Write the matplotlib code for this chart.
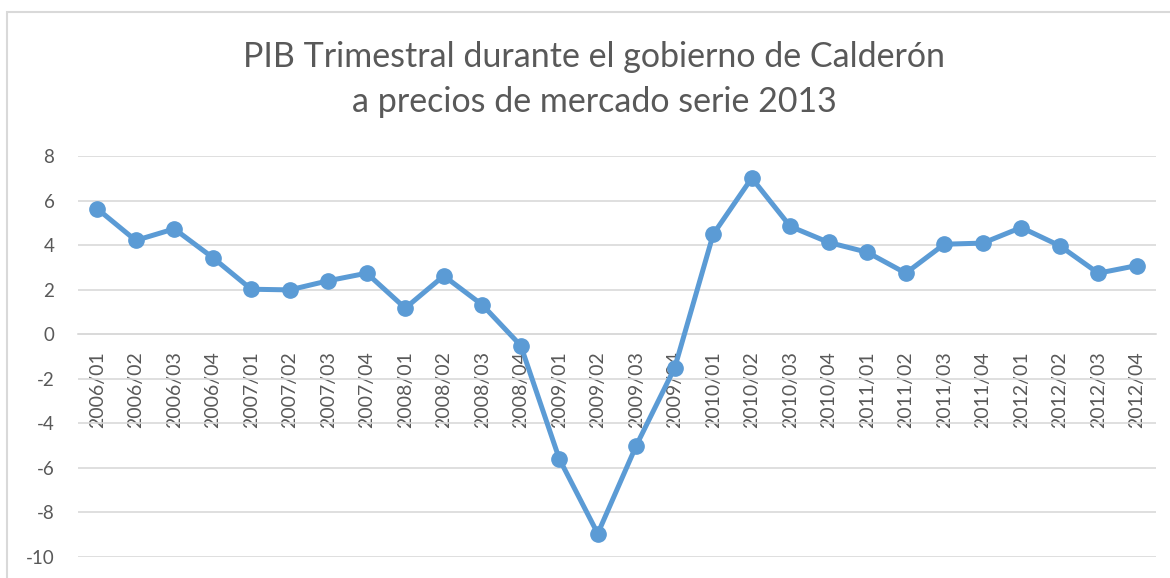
import matplotlib.pyplot as plt
from matplotlib.patches import Rectangle

# quarters and GDP growth (%)
quarters = ["2006/01", "2006/02", "2006/03", "2006/04",
            "2007/01", "2007/02", "2007/03", "2007/04",
            "2008/01", "2008/02", "2008/03", "2008/04",
            "2009/01", "2009/02", "2009/03", "2009/04",
            "2010/01", "2010/02", "2010/03", "2010/04",
            "2011/01", "2011/02", "2011/03", "2011/04",
            "2012/01", "2012/02", "2012/03", "2012/04"]
pib = [5.63, 4.21, 4.73, 3.44,
       2.02, 1.99, 2.40, 2.74,
       1.17, 2.62, 1.32, -0.51,
       -5.59, -8.95, -5.00, -1.50,
       4.49, 7.01, 4.84, 4.12,
       3.68, 2.74, 4.04, 4.09,
       4.79, 3.97, 2.74, 3.08]
yticks = [-10, -8, -6, -4, -2, 0, 2, 4, 6, 8]

plt.rcParams['font.family'] = ['Lato', 'DejaVu Sans']
gray = "#595959"

fig = plt.figure(figsize=(11.7, 5.78), dpi=100)
# chart border (Excel style, partly cut off)
fig.patches.append(Rectangle((7/1170, -0.05), 1.2, 1 - 12/578 + 0.05,
                             transform=fig.transFigure, fill=False,
                             edgecolor="#D9D9D9", linewidth=1.5))

ax = fig.add_axes([78/1170, 1 - 557/578, (1156 - 78)/1170, (557 - 156)/578])
# axis line crosses at 0 like in Excel (set before tick styling, it resets ticks)
for s in ["top", "right", "left"]:
    ax.spines[s].set_visible(False)
ax.spines["bottom"].set_position(("data", 0))
ax.spines["bottom"].set_color("#D9D9D9")
ax.spines["bottom"].set_linewidth(1.2)

x = list(range(len(quarters)))
ax.plot(x, pib, color="#5B9BD5", linewidth=3.6, marker="o", markersize=11,
        zorder=3, clip_on=False)

ax.set_xlim(-0.5, len(quarters) - 0.5)
ax.set_ylim(-10, 8)
ax.set_yticks(yticks)
ax.set_yticklabels([str(v) for v in yticks])
ax.set_xticks(x)
ax.set_xticklabels(quarters)
ax.yaxis.grid(True, color="#D9D9D9", linewidth=1.2)
ax.set_axisbelow(True)

ax.tick_params(axis="x", length=0, pad=12, labelsize=14, colors=gray,
               labelrotation=90)
ax.tick_params(axis="y", length=0, pad=17, labelsize=13.5, colors=gray)

fig.text(0.508, 1 - 67/578, "PIB Trimestral durante el gobierno de Calderón",
         ha="center", va="baseline", fontsize=24.5, color=gray)
fig.text(0.508, 1 - 112/578, "a precios de mercado serie 2013",
         ha="center", va="baseline", fontsize=24.5, color=gray)

fig.savefig("out.png", dpi=100, facecolor="white")
